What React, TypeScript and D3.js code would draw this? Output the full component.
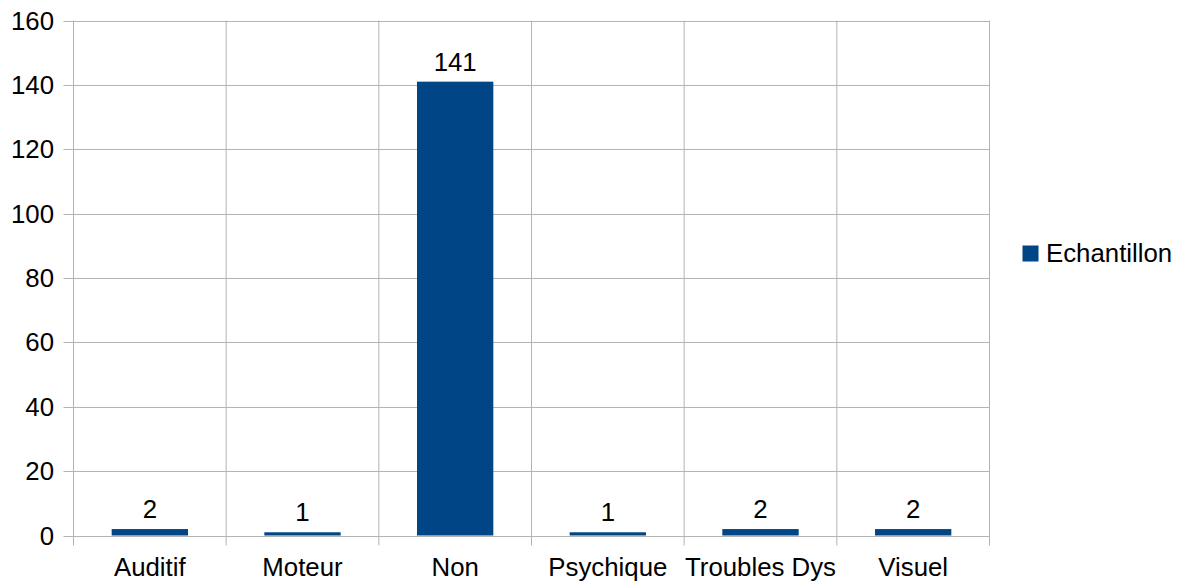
import React from "react";
import * as d3 from "d3";

const categories = ["Auditif", "Moteur", "Non", "Psychique", "Troubles Dys", "Visuel"];
const values = [2, 1, 141, 1, 2, 2];
const yTicks = [0, 20, 40, 60, 80, 100, 120, 140, 160];
const seriesName = "Echantillon";

const W = 1179, H = 584;
const left = 73.5, right = 989.5, top = 20.5, bottom = 535.5;
const color = "#004586";
const grid = "#b3b3b3";
const font = "'Liberation Sans', Arial, sans-serif";
const fs = 25.8;

export default function App() {
  const x = d3.scaleBand<string>().domain(categories).range([left, right]).paddingInner(0).paddingOuter(0);
  const y = d3.scaleLinear().domain([0, 160]).range([bottom, top]);
  const bw = x.bandwidth() * 0.5;
  const edges = categories.map((c) => x(c)!).concat([right]);
  return (
    <svg width={W} height={H} style={{ position: "absolute", left: 0, top: 0, background: "#fff" }} fontFamily={font}>
      {yTicks.map((t) => (
        <g key={t}>
          <line x1={left - 10} x2={right} y1={Math.round(y(t)) + 0.5} y2={Math.round(y(t)) + 0.5} stroke={grid} strokeWidth={1} />
          <text x={54} y={y(t) + 9} textAnchor="end" fontSize={fs} fill="#000">{t}</text>
        </g>
      ))}
      {edges.map((e, i) => (
        <line key={i} x1={e} x2={e} y1={top} y2={bottom + 10} stroke={grid} strokeWidth={1} />
      ))}
      {categories.map((c, i) => {
        const cx = x(c)! + x.bandwidth() / 2;
        return (
          <g key={c}>
            <rect x={cx - bw / 2} y={y(values[i])} width={bw} height={bottom - y(values[i])} fill={color} />
            <text x={cx} y={y(values[i]) - 11} textAnchor="middle" fontSize={fs} fill="#000">{values[i]}</text>
            <text x={cx} y={575.5} textAnchor="middle" fontSize={fs} fill="#000">{c}</text>
          </g>
        );
      })}
      <rect x={1022.5} y={245.5} width={16} height={16} fill={color} />
      <text x={1046} y={261.5} fontSize={fs} fill="#000">{seriesName}</text>
    </svg>
  );
}
